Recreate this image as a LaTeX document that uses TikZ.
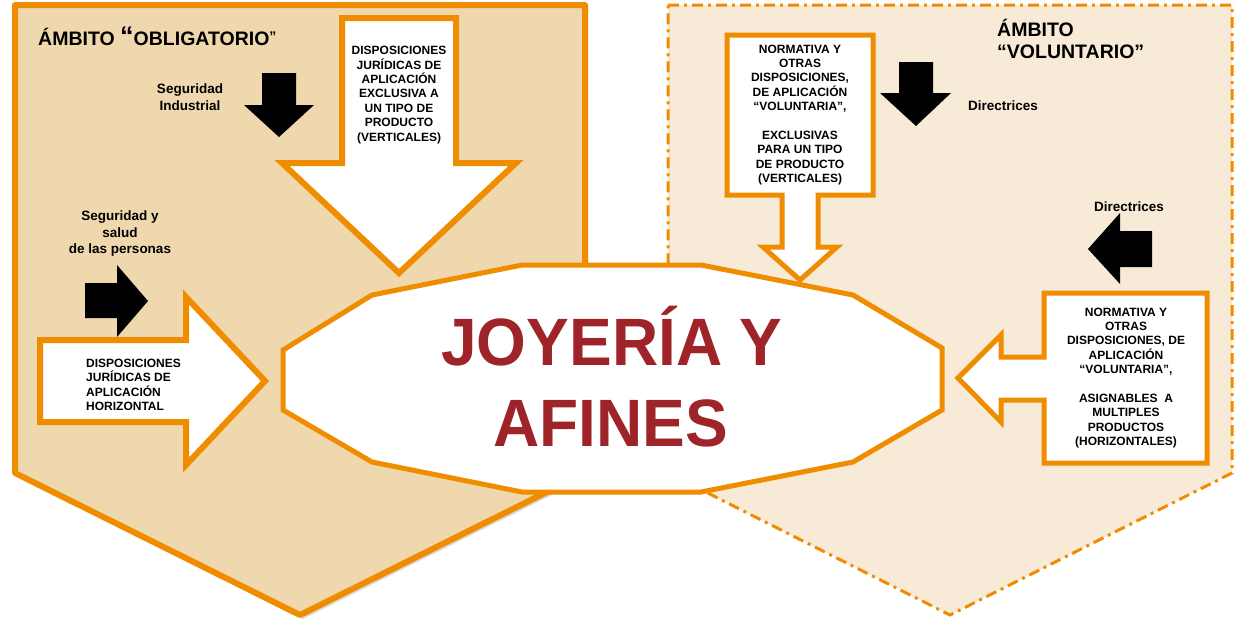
\documentclass[tikz,border=0pt]{standalone}
\usepackage{fontspec}
\setmainfont{Liberation Sans}
\usetikzlibrary{shadows}
\definecolor{orng}{HTML}{F08C00}
\definecolor{tanL}{HTML}{EFD8AE}
\definecolor{tanR}{HTML}{F7EAD6}
\definecolor{jred}{HTML}{9E2429}
\begin{document}
\begin{tikzpicture}[x=1pt,y=-1pt,
  lbl/.style={font=\fontsize{12}{14.4}\selectfont\bfseries, align=center, inner sep=0pt},
  side/.style={font=\fontsize{13.5}{16.5}\selectfont\bfseries, align=center, inner sep=0pt},
  ttl/.style={font=\fontsize{19.5}{22}\selectfont\bfseries, align=left, inner sep=0pt},
  big/.style={font=\fontsize{67}{67}\selectfont\bfseries, inner sep=0pt, anchor=base, xscale=0.955},
  whitearrow/.style={draw=orng, line width=6pt, fill=white, line join=miter},
  callout/.style={draw=orng, line width=5pt, fill=white, line join=miter},
  blackarrow/.style={fill=black}]
\useasboundingbox (0,0) rectangle (1236,622);
% right (voluntary) region
\draw[orng, line width=3pt, fill=tanR, dash pattern=on 11pt off 5pt on 3pt off 5pt]
  (668,5) -- (1232,5) -- (1232,473) -- (950,615) -- (668,473) -- cycle;
% left (obligatory) region
\draw[orng, line width=6pt, fill=tanL, line join=round,
  drop shadow={shadow xshift=3pt, shadow yshift=-4pt, opacity=0.25, fill=black!60}]
  (15,5) -- (585,5) -- (585,473) -- (300,615) -- (15,473) -- cycle;
% central shape
\draw[orng, line width=5pt, fill=white, line join=miter]
  (283,350) -- (372,295) -- (522,265) -- (701,265) -- (853,295) -- (942,348)
  -- (942,410) -- (853,462) -- (701,492) -- (522,492) -- (372,462) -- (283,410) -- cycle;
% vertical white arrow
\draw[whitearrow] (342,18) -- (456,18) -- (456,163) -- (516,163) -- (399,273)
  -- (282,163) -- (342,163) -- cycle;
% horizontal white arrow
\draw[whitearrow] (40,340) -- (186,340) -- (186,297) -- (265,381) -- (186,465)
  -- (186,422) -- (40,422) -- cycle;
% black arrows
\fill[blackarrow] (262,73) -- (296,73) -- (296,105) -- (314,105) -- (279,137) -- (244,105) -- (262,105) -- cycle;
\fill[blackarrow] (85,283) -- (117,283) -- (117,265) -- (148,301) -- (117,337) -- (117,318) -- (85,318) -- cycle;
\fill[blackarrow] (899,62) -- (933,62) -- (933,93) -- (951,93) -- (916,126) -- (880,93) -- (899,93) -- cycle;
\fill[blackarrow] (1088,249) -- (1120,213) -- (1120,231) -- (1152,231) -- (1152,267) -- (1120,267) -- (1120,284) -- cycle;
% callouts
\draw[callout] (727,35) -- (873,35) -- (873,195) -- (818,195) -- (818,247) -- (837,247)
  -- (800,280) -- (763,247) -- (782,247) -- (782,195) -- (727,195) -- cycle;
\draw[callout] (1044,293) -- (1207,293) -- (1207,463) -- (1044,463) -- (1044,400)
  -- (1001,400) -- (1001,422) -- (958,378) -- (1001,335) -- (1001,357) -- (1044,357) -- cycle;
% texts
\node[ttl, anchor=west] (tobl) at (38,36) {ÁMBITO {\fontsize{27}{27}\selectfont “}OBLIGATORIO\raisebox{4pt}{\fontsize{14}{14}\selectfont ”}};
\node[ttl, anchor=north west] (tvol) at (997,19) {ÁMBITO\\“VOLUNTARIO”};
\node[lbl] (tvert) at (399,95) {DISPOSICIONES\\JURÍDICAS DE\\APLICACIÓN\\EXCLUSIVA A\\UN TIPO DE\\PRODUCTO\\(VERTICALES)};
\node[lbl, align=left, anchor=west] (thor) at (86,385) {DISPOSICIONES\\JURÍDICAS DE\\APLICACIÓN\\HORIZONTAL};
\node[side] (tsi) at (190,97) {Seguridad\\Industrial};
\node[side] (tss) at (120,234) {Seguridad y\\salud\\de las personas};
\node[side, anchor=west] (td1) at (968,106) {Directrices};
\node[side] (td2) at (1129,207) {Directrices};
\node[lbl] (tnv) at (800,115) {NORMATIVA Y\\OTRAS\\DISPOSICIONES,\\DE APLICACIÓN\\“VOLUNTARIA”,\\[14.4pt]EXCLUSIVAS\\PARA UN TIPO\\DE PRODUCTO\\(VERTICALES)};
\node[lbl] (tnh) at (1126,378) {NORMATIVA Y\\OTRAS\\DISPOSICIONES, DE\\APLICACIÓN\\“VOLUNTARIA”,\\[14.4pt]ASIGNABLES~~A\\MULTIPLES\\PRODUCTOS\\(HORIZONTALES)};
\node[big, text=jred] (joy) at (612,365) {JOYERÍA Y};
\node[big, text=jred] (afi) at (611,446) {AFINES};
\end{tikzpicture}
\end{document}
